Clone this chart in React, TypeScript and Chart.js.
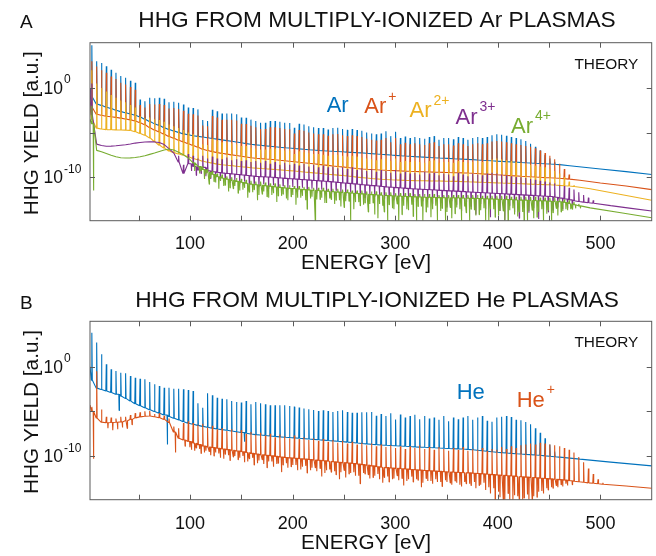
import React, { useEffect, useRef } from 'react';
import { Chart, registerables } from 'chart.js';

Chart.register(...registerables);

const FONT = '"Liberation Sans", Arial, Helvetica, sans-serif';
const COLORS = { blue: '#0072BD', orange: '#D95319', yellow: '#EDB120', purple: '#7E2F8E', green: '#77AC30' };

// Harmonic photon energies (eV)
const HARMONIC_EV = [
  4.2, 8.9, 13.6, 18.3, 23.0, 27.7, 32.4, 37.1, 41.8, 46.5,
  51.2, 55.9, 60.6, 65.3, 70.0, 74.7, 79.4, 84.1, 88.8, 93.5,
  98.2, 102.9, 107.6, 112.3, 117.0, 121.7, 126.4, 131.1, 135.8, 140.5,
  145.2, 149.9, 154.6, 159.3, 164.0, 168.7, 173.4, 178.1, 182.8, 187.5,
  192.2, 196.9, 201.6, 206.3, 211.0, 215.7, 220.4, 225.1, 229.8, 234.5,
  239.2, 243.9, 248.6, 253.3, 258.0, 262.7, 267.4, 272.1, 276.8, 281.5,
  286.2, 290.9, 295.6, 300.3, 305.0, 309.7, 314.4, 319.1, 323.8, 328.5,
  333.2, 337.9, 342.6, 347.3, 352.0, 356.7, 361.4, 366.1, 370.8, 375.5,
  380.2, 384.9, 389.6, 394.3, 399.0, 403.7, 408.4, 413.1, 417.8, 422.5,
  427.2, 431.9, 436.6, 441.3, 446.0, 450.7, 455.4, 460.1, 464.8, 469.5,
  474.2, 478.9, 483.6, 488.3, 493.0, 497.7, 502.4,
];

// Axis limits and ticks
const X_MIN = 2.4;
const X_MAX = 550;
const Y_MIN = 1.3e-15;
const Y_MAX = 1.2e5;
const X_TICKS = [50, 100, 150, 200, 250, 300, 350, 400, 450, 500];
const X_TICK_LABELS = [100, 200, 300, 400, 500];
const Y_TICKS = [1e0, 1e-5, 1e-10];
const Y_TICK_LABELS = [
  { value: 1e0, exp: '0' },
  { value: 1e-10, exp: '-10' },
];

// ---------- Panel A: Ar, Ar+, Ar2+, Ar3+, Ar4+ (log10 of yield) ----------
const AR_HEAD = [[2.4, 0.0]];
const AR_BASE = [
  -1.0, -1.8, -1.95, -2.15, -2.3, -2.5, -2.65, -2.78, -2.92, -3.05,
  -3.25, -3.5, -3.75, -4.0, -4.22, -4.45, -4.65, -4.82, -4.98, -5.15,
  -5.25, -5.35, -5.43, -5.5, -5.58, -5.66, -5.74, -5.82, -5.9, -5.98,
  -6.06, -6.15, -6.24, -6.32, -6.38, -6.43, -6.49, -6.54, -6.6, -6.65,
  -6.7, -6.74, -6.78, -6.83, -6.87, -6.92, -6.96, -7.01, -7.04, -7.07,
  -7.1, -7.13, -7.16, -7.19, -7.22, -7.25, -7.28, -7.32, -7.36, -7.4,
  -7.44, -7.48, -7.52, -7.56, -7.6, -7.63, -7.66, -7.7, -7.73, -7.76,
  -7.79, -7.82, -7.85, -7.88, -7.9, -7.93, -7.96, -7.98, -8.01, -8.04,
  -8.07, -8.1, -8.13, -8.17, -8.2, -8.23, -8.26, -8.29, -8.32, -8.35,
  -8.38, -8.41, -8.44, -8.47, -8.5, -8.53, -8.56, -8.6,
];
const AR_PEAK = [
  4.8, 3.0, 2.8, 2.45, 2.05, 1.7, 1.35, 1.15, 0.8, 0.6,
  -1.3, -1.5, -1.1, -1.15, -1.1, -1.2, -1.6, -1.55, -1.65, -1.85,
  -2.2, -2.25, -2.4, -3.6, -3.7, -2.45, -2.6, -2.85, -2.85, -2.85,
  -2.95, -3.3, -3.35, -3.55, -3.7, -3.9, -3.9, -3.7, -3.7, -3.8,
  -3.9, -3.92, -4.45, -4.0, -4.1, -4.3, -4.4, -4.5, -4.5, -4.65,
  -4.5, -4.45, -4.6, -4.7, -4.6, -4.7, -4.8, -5.0, -5.1, -5.2,
  -5.1, -4.85, -5.4, -4.9, -5.6, -5.45, -5.6, -5.5, -5.6, -5.7,
  -5.5, -5.4, -5.8, -5.6, -5.6, -5.75, -5.5, -5.6, -5.8, -5.6,
  -5.5, -5.6, -5.5, -5.3, -5.2, -5.25, -5.35, -5.5, -5.6, -5.75,
  -5.95, -6.25, -6.6, -7.0, -7.5, -7.9, -8.3, -8.55,
];
const AR_TAIL = [[470, -8.72], [500, -9.08], [525, -9.38], [550, -9.7]];

const AR1_HEAD = [[2.4, -1.5]];
const AR1_BASE = [
  -2.2, -2.95, -3.05, -3.17, -3.22, -3.3, -3.38, -3.48, -3.58, -3.7,
  -3.9, -4.13, -4.45, -4.72, -4.95, -5.2, -5.45, -5.65, -5.85, -6.05,
  -6.25, -6.45, -6.65, -6.88, -7.02, -7.14, -7.25, -7.33, -7.42, -7.5,
  -7.58, -7.66, -7.74, -7.82, -7.88, -7.92, -7.96, -8.0, -8.05, -8.1,
  -8.16, -8.22, -8.28, -8.33, -8.38, -8.45, -8.5, -8.57, -8.62, -8.68,
  -8.75, -8.8, -8.85, -8.92, -8.98, -9.03, -9.08, -9.12, -9.15, -9.17,
  -9.2, -9.22, -9.25, -9.27, -9.3, -9.32, -9.34, -9.36, -9.38, -9.4,
  -9.42, -9.44, -9.45, -9.47, -9.48, -9.5, -9.5, -9.52, -9.53, -9.56,
  -9.6, -9.63, -9.66, -9.7, -9.73, -9.76, -9.8, -9.83, -9.86, -9.9,
  -9.93, -9.96, -9.99, -10.02, -10.05, -10.07, -10.1, -10.13, -10.17, -10.22,
];
const AR1_PEAK = [
  3.0, 2.4, 2.0, 1.7, 1.3, 1.0, 0.6, 0.4, 0.1, -0.2,
  -1.9, -2.2, -1.8, -1.85, -1.8, -1.9, -2.3, -2.25, -2.35, -2.55,
  -2.9, -2.95, -3.1, -4.2, -4.3, -3.15, -3.3, -3.55, -3.55, -3.55,
  -3.65, -4.0, -4.05, -4.25, -4.4, -4.6, -4.6, -4.4, -4.4, -4.5,
  -4.6, -4.62, -5.1, -4.7, -4.8, -5.0, -5.1, -5.2, -5.2, -5.35,
  -5.2, -5.15, -5.3, -5.4, -5.3, -5.4, -5.5, -5.7, -5.8, -5.9,
  -5.8, -5.6, -6.1, -5.6, -6.3, -6.15, -6.3, -6.2, -6.3, -6.4,
  -6.2, -6.1, -6.5, -6.3, -6.3, -6.45, -6.2, -6.3, -6.5, -6.3,
  -6.2, -6.3, -6.2, -6.0, -5.95, -6.0, -6.1, -6.2, -6.3, -6.4,
  -6.5, -6.6, -6.75, -7.0, -7.3, -7.6, -8.0, -8.5, -9.1, -9.7,
];
const AR1_TAIL = [[480, -10.35], [500, -10.65], [525, -11.0], [550, -11.4]];

const AR2_HEAD = [[2.4, -2.0]];
const AR2_BASE = [
  -3.5, -4.5, -4.6, -4.67, -4.68, -4.7, -4.71, -4.73, -4.76, -4.9,
  -5.1, -5.3, -5.6, -6.0, -6.42, -6.75, -7.07, -7.25, -7.4, -7.55,
  -7.72, -7.9, -8.05, -8.21, -8.32, -8.43, -8.54, -8.61, -8.66, -8.71,
  -8.77, -8.83, -8.88, -8.94, -8.99, -9.03, -9.06, -9.1, -9.14, -9.18,
  -9.22, -9.27, -9.32, -9.37, -9.42, -9.47, -9.52, -9.57, -9.62, -9.67,
  -9.72, -9.77, -9.82, -9.87, -9.92, -10.0, -10.05, -10.1, -10.15, -10.2,
  -10.24, -10.27, -10.3, -10.32, -10.34, -10.36, -10.38, -10.39, -10.4, -10.41,
  -10.42, -10.43, -10.44, -10.45, -10.46, -10.47, -10.48, -10.5, -10.52, -10.54,
  -10.56, -10.58, -10.6, -10.62, -10.64, -10.66, -10.68, -10.7, -10.72, -10.74,
  -10.76, -10.78, -10.8, -10.82, -10.84, -10.86, -10.88, -10.92, -10.96, -11.0,
  -11.05,
];
const AR2_PEAK = [
  2.0, 0.5, 0.0, -0.4, -0.8, -1.1, -1.4, -1.6, -1.9, -2.2,
  -3.2, -3.4, -3.3, -3.5, -3.6, -3.8, -4.1, -4.3, -4.5, -4.7,
  -5.0, -5.2, -5.4, -6.3, -6.4, -5.7, -5.9, -6.1, -6.1, -6.2,
  -6.3, -6.5, -6.5, -6.7, -6.8, -6.9, -6.9, -6.8, -6.8, -6.9,
  -7.0, -7.0, -7.4, -7.1, -7.2, -7.3, -7.4, -7.4, -7.5, -7.6,
  -7.5, -7.5, -7.6, -7.7, -7.6, -7.7, -7.8, -7.9, -8.0, -8.1,
  -8.0, -7.9, -8.2, -7.9, -8.3, -8.2, -8.3, -8.2, -8.3, -8.4,
  -8.2, -8.1, -8.4, -8.3, -8.3, -8.4, -8.2, -8.3, -8.4, -8.3,
  -8.2, -8.3, -8.2, -8.0, -7.9, -8.0, -8.1, -8.2, -8.3, -8.4,
  -8.5, -8.6, -8.7, -8.8, -8.9, -9.1, -9.3, -9.6, -10.0, -10.5,
  -10.9,
];
const AR2_TAIL = [[490, -11.3], [520, -11.95], [550, -12.6]];

const AR3_HEAD = [[2.4, 0.0]];
const AR3_BASE = [
  -3.0, -6.3, -6.45, -6.53, -6.52, -6.48, -6.42, -6.36, -6.28, -6.18,
  -6.12, -6.06, -6.04, -6.05, -6.12, -6.35, -6.8, -7.3, -8.3, -9.6,
  -8.5, -8.8, -9.2, -8.9, -9.3, -9.4, -9.48, -9.55, -9.6, -9.65,
  -9.7, -9.76, -9.82, -9.88, -9.92, -9.95, -9.98, -10.02, -10.06, -10.1,
  -10.14, -10.18, -10.22, -10.26, -10.3, -10.34, -10.38, -10.42, -10.46, -10.5,
  -10.55, -10.6, -10.65, -10.7, -10.75, -10.8, -10.85, -10.9, -10.95, -11.0,
  -11.05, -11.1, -11.14, -11.18, -11.22, -11.26, -11.3, -11.33, -11.36, -11.39,
  -11.42, -11.45, -11.48, -11.51, -11.54, -11.57, -11.6, -11.63, -11.66, -11.69,
  -11.72, -11.75, -11.78, -11.81, -11.84, -11.87, -11.9, -11.93, -11.96, -11.99,
  -12.02, -12.05, -12.08, -12.11, -12.14, -12.18, -12.25, -12.35, -12.45, -12.55,
  -12.65, -12.73, -12.8, -12.87, -12.93,
];
const AR3_PEAK = [
  0.5, null, null, null, null, null, null, null, null, null,
  null, null, null, null, null, null, null, null, -7.6, -8.6,
  -7.4, -7.6, -7.9, -7.6, -7.9, -7.7, -7.9, -8.0, -7.8, -8.1,
  -8.0, -8.2, -8.1, -8.3, -8.2, -8.4, -8.2, -8.5, -8.3, -8.6,
  -8.4, -8.6, -8.5, -8.7, -8.5, -8.8, -8.6, -8.9, -8.7, -8.9,
  -8.8, -9.0, -8.9, -9.1, -8.9, -9.2, -9.0, -9.3, -9.1, -9.4,
  -9.2, -9.3, -9.5, -9.2, -9.6, -9.4, -9.6, -9.5, -9.7, -9.4,
  -9.6, -9.5, -9.8, -9.6, -9.7, -9.9, -9.5, -9.7, -9.9, -9.6,
  -9.7, -9.8, -9.6, -9.5, -9.6, -9.7, -9.8, -9.9, -10.0, -10.0,
  -10.1, -10.2, -10.3, -10.4, -10.5, -10.6, -10.7, -10.9, -11.0, -11.2,
  -11.4, -11.7, -12.0, -12.3, -12.6,
];
const AR3_DIP = [
  null, null, null, null, null, null, null, null, null, null,
  null, null, null, null, null, null, null, null, null, null,
  -9.3, -9.8, -9.6, -9.9, -10.2, -10.1, -10.4, -10.3, -10.6, -10.4,
  -10.8, -10.5, -10.9, -10.7, -11.1, -10.8, -11.3, -10.9, -11.2, -11.0,
  -11.4, -11.1, -11.6, -11.2, -11.5, -11.3, -11.8, -11.4, -11.6, -11.9,
  -11.5, -11.8, -12.1, -11.7, -12.0, -11.8, -12.3, -11.9, -12.2, -12.0,
  -12.4, -12.1, -12.6, -12.2, -12.5, -12.3, -12.8, -12.4, -12.7, -12.5,
  -13.0, -12.6, -12.9, -13.4, -12.7, -13.1, -13.8, -12.8, -13.3, -14.2,
  -13.0, -13.6, -14.5, -13.1, -13.8, -14.8, -13.2, -13.9, -14.6, -13.4,
  -14.0, -13.5, -14.7, -13.6, -13.9, -13.7, -13.4, -13.6, -13.5, -13.4,
];
const AR3_TAIL = [[510, -13.2], [530, -13.5], [550, -13.8]];

const AR4_HEAD = [[2.4, -3.5]];
const AR4_BASE = [
  -4.0, -7.0, -7.15, -7.35, -7.55, -7.72, -7.82, -7.85, -7.84, -7.8,
  -7.72, -7.6, -7.45, -7.3, -7.12, -6.95, -6.85, -6.95, -7.2, -7.5,
  -7.85, -8.4, -8.8, -9.15, -9.45, -9.7, -9.95, -10.12, -10.24, -10.36,
  -10.48, -10.6, -10.7, -10.8, -10.86, -10.92, -10.98, -11.04, -11.1, -11.16,
  -11.22, -11.27, -11.31, -11.36, -11.4, -11.44, -11.48, -11.52, -11.56, -11.6,
  -11.64, -11.68, -11.72, -11.76, -11.8, -11.84, -11.88, -11.92, -11.96, -12.0,
  -12.03, -12.06, -12.09, -12.12, -12.15, -12.17, -12.19, -12.21, -12.23, -12.25,
  -12.27, -12.29, -12.3, -12.31, -12.32, -12.33, -12.34, -12.35, -12.36, -12.38,
  -12.4, -12.42, -12.44, -12.46, -12.48, -12.5, -12.52, -12.54, -12.56, -12.58,
  -12.6, -12.62, -12.64, -12.66, -12.68, -12.7, -12.72, -12.76, -12.85, -12.98,
  -13.1, -13.22,
];
const AR4_PEAK = [
  -2.0, null, null, null, null, null, null, null, null, null,
  null, null, null, null, null, null, null, null, null, null,
  null, null, null, -8.8, -9.1, -9.3, -9.6, -9.7, -9.9, -10.0,
  -10.1, -10.2, -10.3, -10.4, -10.5, -10.5, -10.6, -10.7, -10.7, -10.8,
  -10.9, -10.9, -11.0, -11.0, -11.1, -11.1, -11.2, -11.2, -11.2, -11.3,
  -11.3, -11.3, -11.4, -11.4, -11.5, -11.5, -11.5, -11.6, -11.6, -11.6,
  -11.7, -11.7, -11.7, -11.8, -11.8, -11.8, -11.8, -11.9, -11.9, -11.9,
  -11.9, -11.9, -12.0, -12.0, -12.0, -12.0, -12.0, -12.0, -12.0, -12.0,
  -12.0, -12.1, -12.1, -12.1, -12.1, -12.1, -12.1, -12.2, -12.2, -12.2,
  -12.2, -12.2, -12.2, -12.3, -12.3, -12.3, -12.3, -12.4, -12.5, -12.6,
  -12.8, -13.0,
];
const AR4_DIP = [
  -11.5, null, null, null, null, null, null, null, null, null,
  null, null, null, null, null, null, null, null, null, null,
  null, -9.3, -9.6, -10.2, -10.8, -10.5, -11.3, -11.0, -11.6, -11.3,
  -11.8, -11.4, -12.3, -11.7, -12.6, -11.9, -12.2, -12.0, -12.8, -12.1,
  -12.4, -12.2, -13.1, -12.3, -12.6, -12.4, -14.9, -12.5, -12.9, -12.4,
  -13.0, -12.6, -13.4, -12.7, -13.6, -12.8, -13.1, -13.9, -12.9, -14.6,
  -13.2, -14.9, -13.5, -13.0, -14.2, -13.6, -13.1, -14.9, -13.3, -13.9,
  -14.5, -13.2, -13.8, -14.9, -13.4, -14.1, -13.6, -13.3, -14.9, -13.7,
  -14.2, -13.5, -14.9, -13.6, -14.3, -13.8, -14.9, -13.5, -14.4, -13.9,
  -14.9, -13.7, -14.5, -13.6, -14.1, -14.9, -13.5, -13.9, -13.6, -13.6,
  -13.5, -13.5,
];
const AR4_DIP2 = [
  null, null, null, null, null, null, null, null, null, null,
  null, null, null, null, null, null, null, null, null, null,
  null, null, -9.3, -9.7, -10.1, -10.6, -10.4, -10.9, -11.2, -11.0,
  -11.5, -11.2, -11.7, -11.4, -12.0, -11.6, -12.3, -11.8, -12.1, -11.9,
  -12.6, -12.0, -12.3, -12.1, -13.6, -12.2, -12.5, -12.3, -12.9, -12.5,
  -12.6, -13.3, -12.7, -14.9, -12.8, -13.2, -12.9, -13.0, -14.2, -13.0,
  -13.9, -13.1, -13.6, -14.9, -13.2, -13.7, -14.4, -13.3, -14.9, -13.4,
  -13.6, -14.9, -13.5, -13.9, -14.6, -13.4, -14.9, -14.0, -13.6, -14.3,
  -13.7, -14.9, -13.6, -14.5, -13.8, -14.9, -13.7, -14.2, -13.9, -14.9,
  -13.8, -14.6, -13.9, -14.9, -13.7, -14.0, -14.3, -13.8, -13.7, -13.6,
];
const AR4_TAIL = [[490, -13.45], [520, -14.0], [550, -14.55]];

// ---------- Panel B: He, He+ (log10 of yield) ----------
const HE_HEAD = [[2.4, 0.0]];
const HE_BASE = [
  -1.5, -2.4, -2.55, -2.72, -2.9, -3.08, -3.28, -3.55, -3.85, -4.15,
  -4.38, -4.6, -4.82, -5.02, -5.2, -5.4, -5.58, -5.77, -5.95, -6.15,
  -6.32, -6.45, -6.57, -6.68, -6.78, -6.88, -6.97, -7.04, -7.12, -7.2,
  -7.29, -7.37, -7.45, -7.53, -7.6, -7.65, -7.7, -7.75, -7.8, -7.85,
  -7.89, -7.93, -7.97, -8.01, -8.05, -8.09, -8.13, -8.18, -8.22, -8.26,
  -8.3, -8.34, -8.39, -8.44, -8.49, -8.54, -8.6, -8.64, -8.68, -8.72,
  -8.76, -8.79, -8.82, -8.85, -8.88, -8.91, -8.94, -8.97, -9.0, -9.02,
  -9.05, -9.08, -9.1, -9.13, -9.15, -9.18, -9.2, -9.22, -9.25, -9.3,
  -9.35, -9.4, -9.46, -9.52, -9.57, -9.62, -9.66, -9.7, -9.74, -9.78,
  -9.81, -9.84, -9.88, -9.92, -9.98, -10.03, -10.08, -10.12,
];
const HE_PEAK = [
  3.8, 2.7, 1.4, 0.27, -0.3, -0.48, -0.67, -0.74, -1.04, -1.23,
  -1.34, -1.41, -1.71, -1.97, -2.16, -2.35, -2.35, -2.46, -2.46, -2.53,
  -2.61, -2.72, -4.1, -4.6, -2.98, -3.2, -3.47, -3.58, -3.65, -3.84,
  -3.95, -4.02, -3.84, -4.21, -3.95, -4.1, -4.21, -4.32, -4.32, -4.32,
  -4.32, -4.4, -4.47, -4.58, -4.69, -4.77, -4.85, -4.96, -4.88, -4.96,
  -5.07, -4.96, -4.88, -5.07, -5.15, -5.15, -5.1, -5.1, -5.08, -5.5,
  -5.3, -5.52, -5.22, -5.9, -5.35, -5.7, -5.52, -5.37, -5.89, -5.52,
  -5.8, -5.7, -5.95, -5.52, -6.1, -5.7, -5.89, -5.7, -5.52, -5.95,
  -5.7, -5.52, -6.05, -6.15, -5.7, -5.6, -5.52, -5.63, -5.95, -6.0,
  -6.2, -6.45, -6.9, -7.4, -8.0, -8.7, -9.5, -10.1,
];
const HE_DIP = [
  null, null, null, null, null, -4.9, null, null, null, null,
  null, null, null, null, null, -8.7, null, null, null, null,
  null, null, null, null, null, null, null, null, null, null,
  null, -8.4,
];
const HE_TAIL = [[480, -10.35], [510, -10.68], [550, -11.1]];

const HE1_HEAD = [[2.4, -4.3]];
const HE1_BASE = [
  -5.0, -5.75, -6.2, -6.27, -6.25, -6.22, -6.18, -6.05, -5.9, -5.73,
  -5.62, -5.55, -5.52, -5.6, -5.72, -5.9, -6.25, -7.3, -8.0, -8.2,
  -8.38, -8.55, -8.72, -8.88, -8.98, -9.06, -9.14, -9.21, -9.28, -9.36,
  -9.44, -9.52, -9.6, -9.7, -9.78, -9.86, -9.92, -9.98, -10.04, -10.1,
  -10.16, -10.21, -10.26, -10.3, -10.34, -10.39, -10.44, -10.49, -10.54, -10.59,
  -10.64, -10.69, -10.74, -10.79, -10.84, -10.9, -10.96, -11.02, -11.1, -11.2,
  -11.25, -11.3, -11.34, -11.38, -11.42, -11.46, -11.5, -11.54, -11.58, -11.62,
  -11.66, -11.69, -11.72, -11.75, -11.78, -11.81, -11.84, -11.86, -11.88, -11.92,
  -11.96, -12.0, -12.04, -12.08, -12.12, -12.16, -12.2, -12.24, -12.28, -12.32,
  -12.36, -12.4, -12.44, -12.48, -12.52, -12.56, -12.6, -12.64, -12.7, -12.76,
  -12.82, -12.88, -12.94, -13.0, -13.05, -13.1, -13.15,
];
const HE1_PEAK = [
  -4.5, -0.5, -4.8, -5.6, -5.7, -5.8, -5.6, -5.6, -5.4, -5.2,
  -5.1, -5.0, -4.95, -5.3, -5.2, -5.5, -5.8, -6.7, -6.9, -6.3,
  -6.1, -6.3, -6.5, -6.4, -6.8, -6.6, -7.0, -6.9, -7.2, -7.0,
  -7.3, -7.1, -7.5, -7.3, -7.6, -7.4, -7.7, -7.5, -7.9, -7.6,
  -7.8, -8.0, -7.7, -8.1, -7.9, -8.2, -8.0, -8.3, -8.1, -8.4,
  -8.2, -8.5, -8.3, -8.6, -8.4, -8.7, -8.5, -8.8, -8.6, -8.9,
  -8.7, -9.0, -8.8, -9.1, -8.9, -9.2, -8.9, -9.1, -8.8, -9.2,
  -9.0, -9.3, -9.0, -9.2, -9.4, -9.1, -9.3, -9.0, -9.4, -9.2,
  -9.3, -9.1, -9.4, -9.2, -9.3, -9.0, -9.2, -8.9, -9.1, -8.8,
  -8.7, -8.6, -8.7, -8.5, -8.6, -8.7, -8.8, -8.9, -9.1, -9.3,
  -9.6, -10.1, -10.7, -11.4, -12.0, -12.6, -13.0,
];
const HE1_DIP = [
  -10.3, null, null, -6.9, -7.1, -7.0, -6.8, -6.9, -6.5, null,
  null, null, null, null, null, null, null, -9.6, null, -8.9,
  -9.0, -9.4, -9.2, -9.6, -9.5, -10.0, -9.7, -10.3, -9.9, -10.1,
  -10.4, -10.0, -10.6, -10.2, -10.8, -10.4, -11.3, -10.6, -10.9, -11.8,
  -10.8, -11.2, -11.0, -11.5, -11.1, -11.6, -11.3, -11.4, -11.9, -11.5,
  -11.7, -12.6, -11.6, -12.0, -11.8, -12.2, -11.9, -12.1, -12.4, -12.0,
  -13.0, -12.3, -12.6, -12.2, -12.5, -12.8, -12.3, -12.6, -13.5, -12.5,
  -12.8, -12.6, -12.9, -12.7, -13.0, -12.8, -13.2, -12.9, -13.1, -12.9,
  -13.3, -13.0, -13.5, -13.6, -14.0, -14.9, -14.2, -14.9, -14.5, -14.9,
  -14.3, -14.9, -14.6, -13.9, -13.6, -13.5, -13.3, -13.2, -13.1,
];
const HE1_DIP2 = [
  null, null, null, null, null, null, null, null, null, null,
  null, null, null, null, null, null, null, null, null, null,
  -9.3, -9.1, -9.7, -9.4, -9.9, -9.6, -10.2, -9.8, -10.5, -10.0,
  -10.2, -10.7, -10.3, -11.0, -10.5, -10.9, -10.6, -11.2, -10.8, -11.0,
  -11.3, -11.0, -11.6, -11.2, -11.9, -11.3, -11.7, -12.3, -11.6, -11.8,
  -12.1, -11.8, -12.4, -11.9, -12.2, -13.1, -12.0, -12.5, -12.2, -12.6,
  -12.4, -12.9, -12.5, -12.7, -13.3, -12.6, -12.9, -12.7, -13.0, -12.8,
  -13.1, -12.9, -13.4, -12.9, -13.2, -13.0, -13.4, -13.1, -13.3, -13.6,
  -13.2, -13.8, -14.2, -14.9, -14.6, -14.9, -14.9, -14.4, -14.9, -14.7,
  -14.9, -14.5, -14.0, -14.2, -13.8, -13.6, -13.5, -13.4, -13.3, -13.2,
];
const HE1_TAIL = [[525, -13.35], [550, -13.6]];

// Build the plotted line: continuum points with a narrow spike at each harmonic
const SPIKE_HALF = 0.45;
const DIP_HALF = 0.3;
const DIP_OFFSET_1 = 1.6;
const DIP_OFFSET_2 = 3.1;

function buildLine(head, base, peak, dips, tail) {
  const pts = [];
  head.forEach(([e, v]) => pts.push({ x: e, y: Math.pow(10, v) }));
  const n = Math.min(base.length, peak.length, HARMONIC_EV.length);
  for (let k = 0; k < n; k++) {
    const e = HARMONIC_EV[k];
    const b = Math.pow(10, base[k]);
    if (peak[k] == null) {
      pts.push({ x: e, y: b });
    } else {
      pts.push({ x: e - SPIKE_HALF, y: b });
      pts.push({ x: e, y: Math.pow(10, peak[k]) });
      pts.push({ x: e + SPIKE_HALF, y: b });
    }
    dips.forEach(({ offset, values }) => {
      if (values[k] != null) {
        pts.push({ x: e + offset - DIP_HALF, y: b });
        pts.push({ x: e + offset, y: Math.pow(10, values[k]) });
        pts.push({ x: e + offset + DIP_HALF, y: b });
      }
    });
  }
  tail.forEach(([e, v]) => pts.push({ x: e, y: Math.pow(10, v) }));
  return pts;
}

function ds(label, data, color) {
  return {
    label,
    data,
    borderColor: color,
    backgroundColor: color,
    borderWidth: 1.1,
    pointRadius: 0,
    fill: false,
    tension: 0,
    borderJoinStyle: 'bevel',
    clip: 0,
  };
}

function makePanelA() {
  // first dataset is drawn last (on top)
  return [
    ds('Ar4+', buildLine(AR4_HEAD, AR4_BASE, AR4_PEAK,
      [{ offset: DIP_OFFSET_1, values: AR4_DIP }, { offset: DIP_OFFSET_2, values: AR4_DIP2 }], AR4_TAIL), COLORS.green),
    ds('Ar3+', buildLine(AR3_HEAD, AR3_BASE, AR3_PEAK,
      [{ offset: DIP_OFFSET_2, values: AR3_DIP }], AR3_TAIL), COLORS.purple),
    ds('Ar2+', buildLine(AR2_HEAD, AR2_BASE, AR2_PEAK, [], AR2_TAIL), COLORS.yellow),
    ds('Ar+', buildLine(AR1_HEAD, AR1_BASE, AR1_PEAK, [], AR1_TAIL), COLORS.orange),
    ds('Ar', buildLine(AR_HEAD, AR_BASE, AR_PEAK, [], AR_TAIL), COLORS.blue),
  ];
}

function makePanelB() {
  return [
    ds('He+', buildLine(HE1_HEAD, HE1_BASE, HE1_PEAK,
      [{ offset: DIP_OFFSET_1, values: HE1_DIP }, { offset: DIP_OFFSET_2, values: HE1_DIP2 }], HE1_TAIL), COLORS.orange),
    ds('He', buildLine(HE_HEAD, HE_BASE, HE_PEAK,
      [{ offset: DIP_OFFSET_2, values: HE_DIP }], HE_TAIL), COLORS.blue),
  ];
}

const TEXT = '#111111';
const AXIS = '#5a5a5a';

function drawText(ctx, s, x, y, size, color, align = 'left') {
  ctx.font = `${size}px ${FONT}`;
  ctx.fillStyle = color;
  ctx.textAlign = align;
  ctx.textBaseline = 'alphabetic';
  ctx.fillText(s, x, y);
}

function makeDecor(cfg) {
  return {
    id: 'decor',
    afterDraw(chart) {
      const { ctx, chartArea: a, scales } = chart;
      const xs = scales.x;
      const ys = scales.y;
      ctx.save();
      // frame and inward ticks
      ctx.strokeStyle = AXIS;
      ctx.lineWidth = 1;
      ctx.strokeRect(a.left, a.top, a.right - a.left, a.bottom - a.top);
      ctx.beginPath();
      X_TICKS.forEach((t) => {
        const px = Math.round(xs.getPixelForValue(t)) + 0.5;
        ctx.moveTo(px, a.bottom);
        ctx.lineTo(px, a.bottom - 5);
        ctx.moveTo(px, a.top);
        ctx.lineTo(px, a.top + 5);
      });
      Y_TICKS.forEach((t) => {
        const py = Math.round(ys.getPixelForValue(t)) + 0.5;
        ctx.moveTo(a.left, py);
        ctx.lineTo(a.left + 5, py);
        ctx.moveTo(a.right, py);
        ctx.lineTo(a.right - 5, py);
      });
      ctx.stroke();

      // x tick labels
      X_TICK_LABELS.forEach((t) => {
        drawText(ctx, String(t), xs.getPixelForValue(t), a.bottom + cfg.xTickDy, 18, TEXT, 'center');
      });
      // y tick labels 10^n
      Y_TICK_LABELS.forEach(({ value, exp }) => {
        const py = ys.getPixelForValue(value);
        drawText(ctx, '10', 43.5, py + 6, 17.5, TEXT, 'left');
        ctx.font = `17.5px ${FONT}`;
        const w = ctx.measureText('10').width;
        drawText(ctx, exp, 43.5 + w + 1, py - 4.5, 12, TEXT, 'left');
      });

      // axis titles
      drawText(ctx, 'ENERGY [eV]', 366, cfg.xTitleY, 20.7, TEXT, 'center');
      ctx.save();
      ctx.translate(37.5, (a.top + a.bottom) / 2 + 1.5);
      ctx.rotate(-Math.PI / 2);
      drawText(ctx, 'HHG YIELD [a.u.]', 0, 0, 20.8, TEXT, 'center');
      ctx.restore();

      // panel letter and title
      drawText(ctx, cfg.letter, 20, cfg.letterY, 19, TEXT, 'left');
      drawText(ctx, cfg.title, 377, cfg.titleY, 22.7, TEXT, 'center');
      drawText(ctx, 'THEORY', 638.3, cfg.theoryY, 15.4, TEXT, 'right');

      // species labels
      cfg.labels.forEach((l) => {
        drawText(ctx, l.main, l.x, l.y, 22, l.color, 'left');
        if (l.sup) {
          ctx.font = `22px ${FONT}`;
          const w = ctx.measureText(l.main).width;
          drawText(ctx, l.sup, l.x + w + 2, l.y - 12.5, 14, l.color, 'left');
        }
      });
      ctx.restore();
    },
  };
}

function Panel({ top, padTop, makeData, cfg }) {
  const ref = useRef(null);
  useEffect(() => {
    const chart = new Chart(ref.current, {
      type: 'line',
      data: { datasets: makeData() },
      options: {
        animation: false,
        responsive: false,
        devicePixelRatio: 1,
        parsing: false,
        events: [],
        layout: { padding: { left: 90, right: 4.3, top: padTop, bottom: 57.3 } },
        scales: {
          x: { type: 'linear', min: X_MIN, max: X_MAX, display: false },
          y: { type: 'logarithmic', min: Y_MIN, max: Y_MAX, display: false },
        },
        plugins: {
          legend: { display: false },
          tooltip: { enabled: false },
          title: { display: false },
        },
        elements: { point: { radius: 0 }, line: { tension: 0 } },
      },
      plugins: [makeDecor(cfg)],
    });
    return () => chart.destroy();
  }, []);
  return (
    <canvas
      ref={ref}
      width={656}
      height={278}
      style={{ position: 'absolute', left: 0, top, width: 656, height: 278 }}
    />
  );
}

const CFG_A = {
  letter: 'A',
  letterY: 28.3,
  title: 'HHG FROM MULTIPLY-IONIZED Ar PLASMAS',
  titleY: 26.7,
  theoryY: 68.7,
  xTickDy: 28.6,
  xTitleY: 269.3,
  labels: [
    { main: 'Ar', sup: '', x: 326.7, y: 111.7, color: COLORS.blue },
    { main: 'Ar', sup: '+', x: 364.3, y: 113, color: COLORS.orange },
    { main: 'Ar', sup: '2+', x: 409.5, y: 117, color: COLORS.yellow },
    { main: 'Ar', sup: '3+', x: 455.5, y: 123.5, color: COLORS.purple },
    { main: 'Ar', sup: '4+', x: 511, y: 132.8, color: COLORS.green },
  ],
};

const CFG_B = {
  letter: 'B',
  letterY: 30,
  title: 'HHG FROM MULTIPLY-IONIZED He PLASMAS',
  titleY: 27.7,
  theoryY: 67.7,
  xTickDy: 29.6,
  xTitleY: 270.3,
  labels: [
    { main: 'He', sup: '', x: 456.7, y: 120.3, color: COLORS.blue },
    { main: 'He', sup: '+', x: 516.7, y: 127.7, color: COLORS.orange },
  ],
};

export default function App() {
  return (
    <div style={{ position: 'absolute', left: 0, top: 0, width: 656, height: 556, background: '#ffffff' }}>
      <Panel top={0} padTop={42.7} makeData={makePanelA} cfg={CFG_A} />
      <Panel top={279} padTop={42.3} makeData={makePanelB} cfg={CFG_B} />
    </div>
  );
}
